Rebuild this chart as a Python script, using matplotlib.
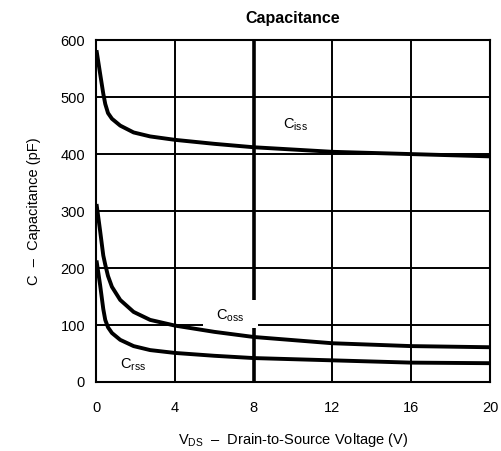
import numpy as np
import matplotlib
matplotlib.use('Agg')
import matplotlib.pyplot as plt

plt.rcParams['font.family'] = ['Liberation Sans', 'DejaVu Sans']
plt.rcParams['mathtext.fontset'] = 'custom'
plt.rcParams['mathtext.rm'] = 'Liberation Sans'
plt.rcParams['mathtext.it'] = 'Liberation Sans'

# values
vds = [0.03, 0.2, 0.36, 0.46, 0.6, 0.8, 1.22, 1.9, 2.74, 4, 6, 8, 12, 16, 20]
ciss = [579, 541, 506, 488, 472, 462, 450, 438, 431, 425, 418, 412, 404, 400, 396]
coss = [309, 265, 222, 206, 186, 167, 144, 123, 109, 99, 88, 79, 68, 63, 61]
crss = [210, 170, 128, 109, 96, 86, 74, 63, 56, 51, 46, 42, 38, 34, 33]

x_ticks = [0, 4, 8, 12, 16, 20]
y_ticks = [0, 100, 200, 300, 400, 500, 600]

fig = plt.figure(figsize=(5.01, 4.51), dpi=100)
ax = fig.add_axes([0.192, 0.153, 0.786, 0.758])
ax.set_xlim(0, 20)
ax.set_ylim(0, 600)

# grid, with the gaps left for the Coss label
for y in [200, 300, 400, 500]:
    ax.hlines(y, 0, 20, color='black', lw=1.4, zorder=1)
ax.hlines(100, 0, 5.4, color='black', lw=1.4, zorder=1)
ax.hlines(100, 8.2, 20, color='black', lw=1.4, zorder=1)
for x in [4, 12, 16]:
    ax.vlines(x, 0, 600, color='black', lw=1.4, zorder=1)
ax.vlines(8, 144, 600, color='black', lw=2.6, zorder=1)
ax.vlines(8, 0, 95, color='black', lw=2.6, zorder=1)

for series in [ciss, coss, crss]:
    ax.plot(vds, series, color='black', lw=2.8, solid_joinstyle='round', zorder=2)

ax.text(9.5, 451, r'C$_{\mathrm{iss}}$', fontsize=10.5, ha='left', va='center')
ax.text(6.1, 117, r'C$_{\mathrm{oss}}$', fontsize=10.5, ha='left', va='center')
ax.text(1.2, 30, r'C$_{\mathrm{rss}}$', fontsize=10.5, ha='left', va='center')

ax.set_xticks(x_ticks)
ax.set_yticks(y_ticks)
ax.tick_params(length=0, labelsize=10.5)
ax.tick_params(axis='x', pad=14)
ax.tick_params(axis='y', pad=8)
for s in ax.spines.values():
    s.set_linewidth(1.5)

ax.set_title('Capacitance', fontsize=11.5, fontweight='bold', pad=12)
ax.set_xlabel(r'V$_{\mathrm{DS}}$  –  Drain-to-Source Voltage (V)', fontsize=10.5, labelpad=11)
ax.set_ylabel('C  –  Capacitance (pF)', fontsize=10.5, labelpad=14)

fig.savefig('out.png', dpi=100)
